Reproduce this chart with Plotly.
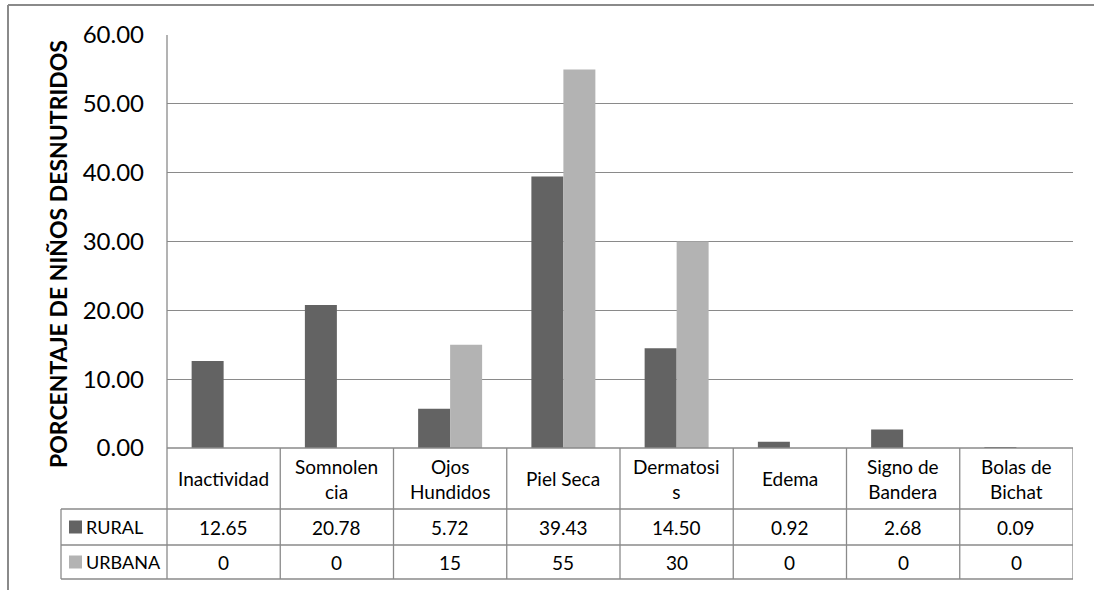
import plotly.graph_objects as go

# Signos clínicos de desnutrición por zona
categories = ["Inactividad", "Somnolencia", "Ojos Hundidos", "Piel Seca",
              "Dermatosis", "Edema", "Signo de Bandera", "Bolas de Bichat"]
header_labels = ["Inactividad", "Somnolen<br>cia", "Ojos<br>Hundidos", "Piel Seca",
                 "Dermatosi<br>s", "Edema", "Signo de<br>Bandera", "Bolas de<br>Bichat"]
rural = [12.65, 20.78, 5.72, 39.43, 14.50, 0.92, 2.68, 0.09]
urbana = [0, 0, 15, 55, 30, 0, 0, 0]
y_ticks = [0, 10, 20, 30, 40, 50, 60]

W, H = 1094, 590
L, R, T, B = 167, 1073, 35, 448          # plot area in pixels
PW, PH = R - L, B - T

RURAL_COLOR = "#636363"
URBANA_COLOR = "#b3b3b3"
LINE = "#8a8a8a"
FONT = "Lato"


def px(x):
    return (x - L) / PW


def py(y):
    return (B - y) / PH


fig = go.Figure()
fig.add_bar(x=categories, y=rural, name="RURAL", marker_color=RURAL_COLOR,
            marker_line_width=0)
fig.add_bar(x=categories, y=urbana, name="URBANA", marker_color=URBANA_COLOR,
            marker_line_width=0)

shapes = []
annotations = []

# outer chart frame (top and left edges)
shapes.append(dict(type="line", xref="paper", yref="paper",
                   x0=px(8), x1=px(W + 5), y0=py(5), y1=py(5),
                   line=dict(color=LINE, width=2)))
shapes.append(dict(type="line", xref="paper", yref="paper",
                   x0=px(8), x1=px(8), y0=py(5), y1=py(H + 5),
                   line=dict(color=LINE, width=2)))

# plot area left edge running down through the data table
shapes.append(dict(type="line", xref="paper", yref="paper",
                   x0=0, x1=0, y0=1, y1=py(579),
                   line=dict(color=LINE, width=1.3)))

# data table rows
row_header = (448, 509)
row_rural = (509, 545)
row_urbana = (545, 579)
n = len(categories)
shapes.append(dict(type="line", xref="paper", yref="paper",
                   x0=0, x1=1, y0=py(448), y1=py(448),
                   line=dict(color=LINE, width=1.3)))
for yy in (509, 545, 579):
    shapes.append(dict(type="line", xref="paper", yref="paper",
                       x0=px(61), x1=1, y0=py(yy), y1=py(yy),
                       line=dict(color=LINE, width=1.3)))
shapes.append(dict(type="line", xref="paper", yref="paper",
                   x0=px(61), x1=px(61), y0=py(509), y1=py(579),
                   line=dict(color=LINE, width=1.3)))
for i in range(1, n + 1):
    shapes.append(dict(type="line", xref="x", yref="paper",
                       x0=i - 0.5, x1=i - 0.5, y0=py(448), y1=py(579),
                       line=dict(color=LINE, width=1.3)))

cell_font = dict(family=FONT, size=19, color="#000000")
key_font = dict(family=FONT, size=18, color="#000000")


def fmt_urbana(v):
    return f"{v:g}"


for i in range(n):
    annotations.append(dict(xref="x", yref="paper", x=i,
                            y=py(sum(row_header) / 2), text=header_labels[i],
                            showarrow=False, font=cell_font,
                            xanchor="center", yanchor="middle"))
    annotations.append(dict(xref="x", yref="paper", x=i,
                            y=py(sum(row_rural) / 2), text=f"{rural[i]:.2f}",
                            showarrow=False, font=cell_font,
                            xanchor="center", yanchor="middle"))
    annotations.append(dict(xref="x", yref="paper", x=i,
                            y=py(sum(row_urbana) / 2), text=fmt_urbana(urbana[i]),
                            showarrow=False, font=cell_font,
                            xanchor="center", yanchor="middle"))

# legend keys inside the table
for (row, name, color) in ((row_rural, "RURAL", RURAL_COLOR),
                           (row_urbana, "URBANA", URBANA_COLOR)):
    cy = sum(row) / 2
    shapes.append(dict(type="rect", xref="paper", yref="paper",
                       x0=px(69), x1=px(82), y0=py(cy - 6.5), y1=py(cy + 6.5),
                       fillcolor=color, line=dict(width=0)))
    annotations.append(dict(xref="paper", yref="paper", x=px(84), y=py(cy),
                            text=name, showarrow=False, font=key_font,
                            xanchor="left", yanchor="middle"))

# y axis title
annotations.append(dict(xref="paper", yref="paper", x=px(58), y=py(254),
                        text="<b>PORCENTAJE DE NIÑOS DESNUTRIDOS</b>",
                        textangle=-90, showarrow=False,
                        font=dict(family=FONT, size=23, color="#000000"),
                        xanchor="center", yanchor="middle"))

fig.update_layout(
    width=W, height=H, autosize=False,
    margin=dict(l=L, r=W - R, t=T, b=H - B, pad=0),
    paper_bgcolor="white", plot_bgcolor="white",
    barmode="group", bargap=0.435, bargroupgap=0,
    showlegend=False,
    shapes=shapes, annotations=annotations,
    font=dict(family=FONT, color="#000000"),
)
fig.update_xaxes(type="category", range=[-0.5, n - 0.5], showticklabels=False,
                 showgrid=False, zeroline=False, showline=False, ticks="")
fig.update_yaxes(range=[0, 60], tickvals=y_ticks, tickformat=".2f",
                 showgrid=True, gridcolor=LINE, gridwidth=1.3,
                 zeroline=False, showline=False, ticks="",
                 ticklabelstandoff=22,
                 tickfont=dict(family=FONT, size=24, color="#000000"))

fig.write_html("out.html")
